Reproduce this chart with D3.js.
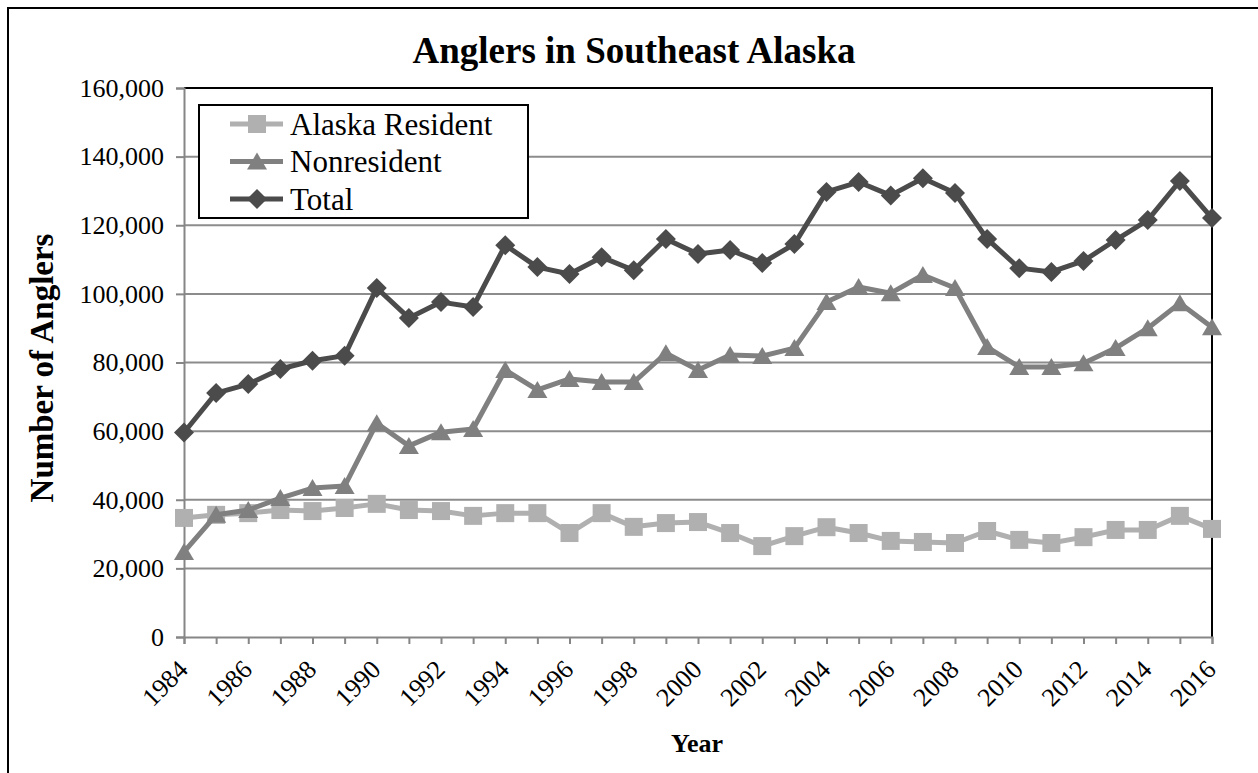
<!DOCTYPE html>
<html>
<head>
<meta charset="utf-8">
<script src="https://cdn.jsdelivr.net/npm/d3@7"></script>
<style>
  body { margin: 0; background: #fff; }
  svg { display: block; }
  svg text { font-family: "Liberation Serif", "Times New Roman", serif; }
</style>
</head>
<body>
<div id="chart"></div>
<script>
var years = d3.range(1984, 2017);
var resident = [34700, 35600, 36100, 37000, 36700, 37600, 38800, 37000, 36700, 35300,
  36100, 36100, 30300, 36100, 32100, 33200, 33500, 30300, 26500, 29400,
  32000, 30300, 28000, 27700, 27400, 30900, 28300, 27400, 29100, 31200,
  31200, 35300, 31500];
var nonresident = [24800, 35600, 37000, 40500, 43400, 44000, 62300, 55700, 59700, 60600,
  77800, 72000, 75200, 74300, 74300, 82700, 77800, 82200, 81900, 84200,
  97600, 102000, 100200, 105500, 101700, 84500, 78700, 78700, 79800, 84200,
  90000, 97300, 90300];
var total = [59600, 71100, 73700, 78100, 80500, 82000, 101700, 93000, 97600, 96200,
  114200, 107800, 105800, 110700, 106900, 116000, 111600, 112800, 109000, 114500,
  129700, 132600, 128700, 133700, 129400, 116000, 107500, 106400, 109600, 115700,
  121500, 132900, 122100];
var yTicks = [0, 20000, 40000, 60000, 80000, 100000, 120000, 140000, 160000];

var series = [
  {name: "Alaska Resident", values: resident, color: "#b0b0b0", shape: "square"},
  {name: "Nonresident", values: nonresident, color: "#808080", shape: "triangle"},
  {name: "Total", values: total, color: "#4b4b4b", shape: "diamond"}
];

var width = 1258, height = 773;
var margin = {left: 184, right: 46, top: 88, bottom: 136};

var svg = d3.select("#chart").append("svg")
    .attr("width", width)
    .attr("height", height);

// outer frame, runs off the right and bottom edges
svg.append("rect")
    .attr("x", 8).attr("y", 8)
    .attr("width", width + 20).attr("height", height + 20)
    .attr("fill", "none")
    .attr("stroke", "#000")
    .attr("stroke-width", 2);

var x = d3.scaleLinear()
    .domain([1984, 2016])
    .range([margin.left, width - margin.right]);

var y = d3.scaleLinear()
    .domain([0, 160000])
    .range([height - margin.bottom, margin.top]);

function markerPath(shape) {
  if (shape == "square") return "M-9,-9H9V9H-9Z";
  if (shape == "triangle") return "M0,-9L10,8L-10,8Z";
  return "M0,-10L10,0L0,10L-10,0Z";
}

// gridlines
svg.append("g")
    .selectAll("line")
    .data(yTicks.filter(function(d) { return d > 0 && d < 160000; }))
    .enter().append("line")
    .attr("x1", x(1984)).attr("x2", x(2016))
    .attr("y1", function(d) { return y(d); })
    .attr("y2", function(d) { return y(d); })
    .attr("stroke", "#8c8c8c")
    .attr("stroke-width", 2);

// plot frame top and right
svg.append("path")
    .attr("d", "M" + x(1984) + "," + y(160000) + "H" + x(2016) + "V" + y(0))
    .attr("fill", "none")
    .attr("stroke", "#000")
    .attr("stroke-width", 2);

// y axis
var yAxis = svg.append("g")
    .attr("transform", "translate(" + x(1984) + ",0)")
    .call(d3.axisLeft(y).tickValues(yTicks).tickSize(8).tickPadding(12)
      .tickFormat(d3.format(",")));
yAxis.selectAll("line, path").attr("stroke", "#868686").attr("stroke-width", 2);
yAxis.selectAll("text")
    .attr("font-size", "26px")
    .attr("font-family", "'Liberation Serif', serif")
    .attr("fill", "#000");

// x axis
var xAxis = svg.append("g")
    .attr("transform", "translate(0," + y(0) + ")")
    .call(d3.axisBottom(x).tickValues(years).tickSize(7)
      .tickFormat(function(d) { return d % 2 == 0 ? d : ""; }));
xAxis.selectAll("line, path").attr("stroke", "#868686").attr("stroke-width", 2);
xAxis.selectAll("text")
    .attr("font-size", "26px")
    .attr("font-family", "'Liberation Serif', serif")
    .attr("fill", "#000")
    .attr("text-anchor", "end")
    .attr("dy", null)
    .attr("y", 0)
    .attr("transform", "translate(5,34) rotate(-45)");

// lines and markers
var line = d3.line()
    .x(function(d, i) { return x(years[i]); })
    .y(function(d) { return y(d); });

series.forEach(function(s) {
  svg.append("path")
      .attr("d", line(s.values))
      .attr("fill", "none")
      .attr("stroke", s.color)
      .attr("stroke-width", 5)
      .attr("stroke-linejoin", "round");
  svg.append("g")
      .selectAll("path")
      .data(s.values)
      .enter().append("path")
      .attr("d", markerPath(s.shape))
      .attr("fill", s.color)
      .attr("transform", function(d, i) {
        return "translate(" + x(years[i]) + "," + y(d) + ")";
      });
});

// legend
var legend = svg.append("g");
legend.append("rect")
    .attr("x", 199).attr("y", 105)
    .attr("width", 329).attr("height", 113)
    .attr("fill", "#fff")
    .attr("stroke", "#000")
    .attr("stroke-width", 2);

var item = legend.selectAll(".item")
    .data(series)
    .enter().append("g")
    .attr("class", "item")
    .attr("transform", function(d, i) { return "translate(230," + (124 + i * 37.5) + ")"; });

item.append("line")
    .attr("x1", 0).attr("x2", 53)
    .attr("stroke", function(d) { return d.color; })
    .attr("stroke-width", 5);
item.append("path")
    .attr("d", function(d) { return markerPath(d.shape); })
    .attr("transform", "translate(27,0)")
    .attr("fill", function(d) { return d.color; });
item.append("text")
    .attr("x", 60)
    .attr("dy", "0.35em")
    .attr("font-size", "31px")
    .text(function(d) { return d.name; });

// titles
svg.append("text")
    .attr("x", 634).attr("y", 63)
    .attr("text-anchor", "middle")
    .attr("font-size", "37px")
    .attr("font-weight", "bold")
    .text("Anglers in Southeast Alaska");

svg.append("text")
    .attr("transform", "translate(53,368) rotate(-90)")
    .attr("text-anchor", "middle")
    .attr("font-size", "33px")
    .attr("font-weight", "bold")
    .text("Number of Anglers");

svg.append("text")
    .attr("x", 697).attr("y", 752)
    .attr("text-anchor", "middle")
    .attr("font-size", "26px")
    .attr("font-weight", "bold")
    .text("Year");
</script>
</body>
</html>
